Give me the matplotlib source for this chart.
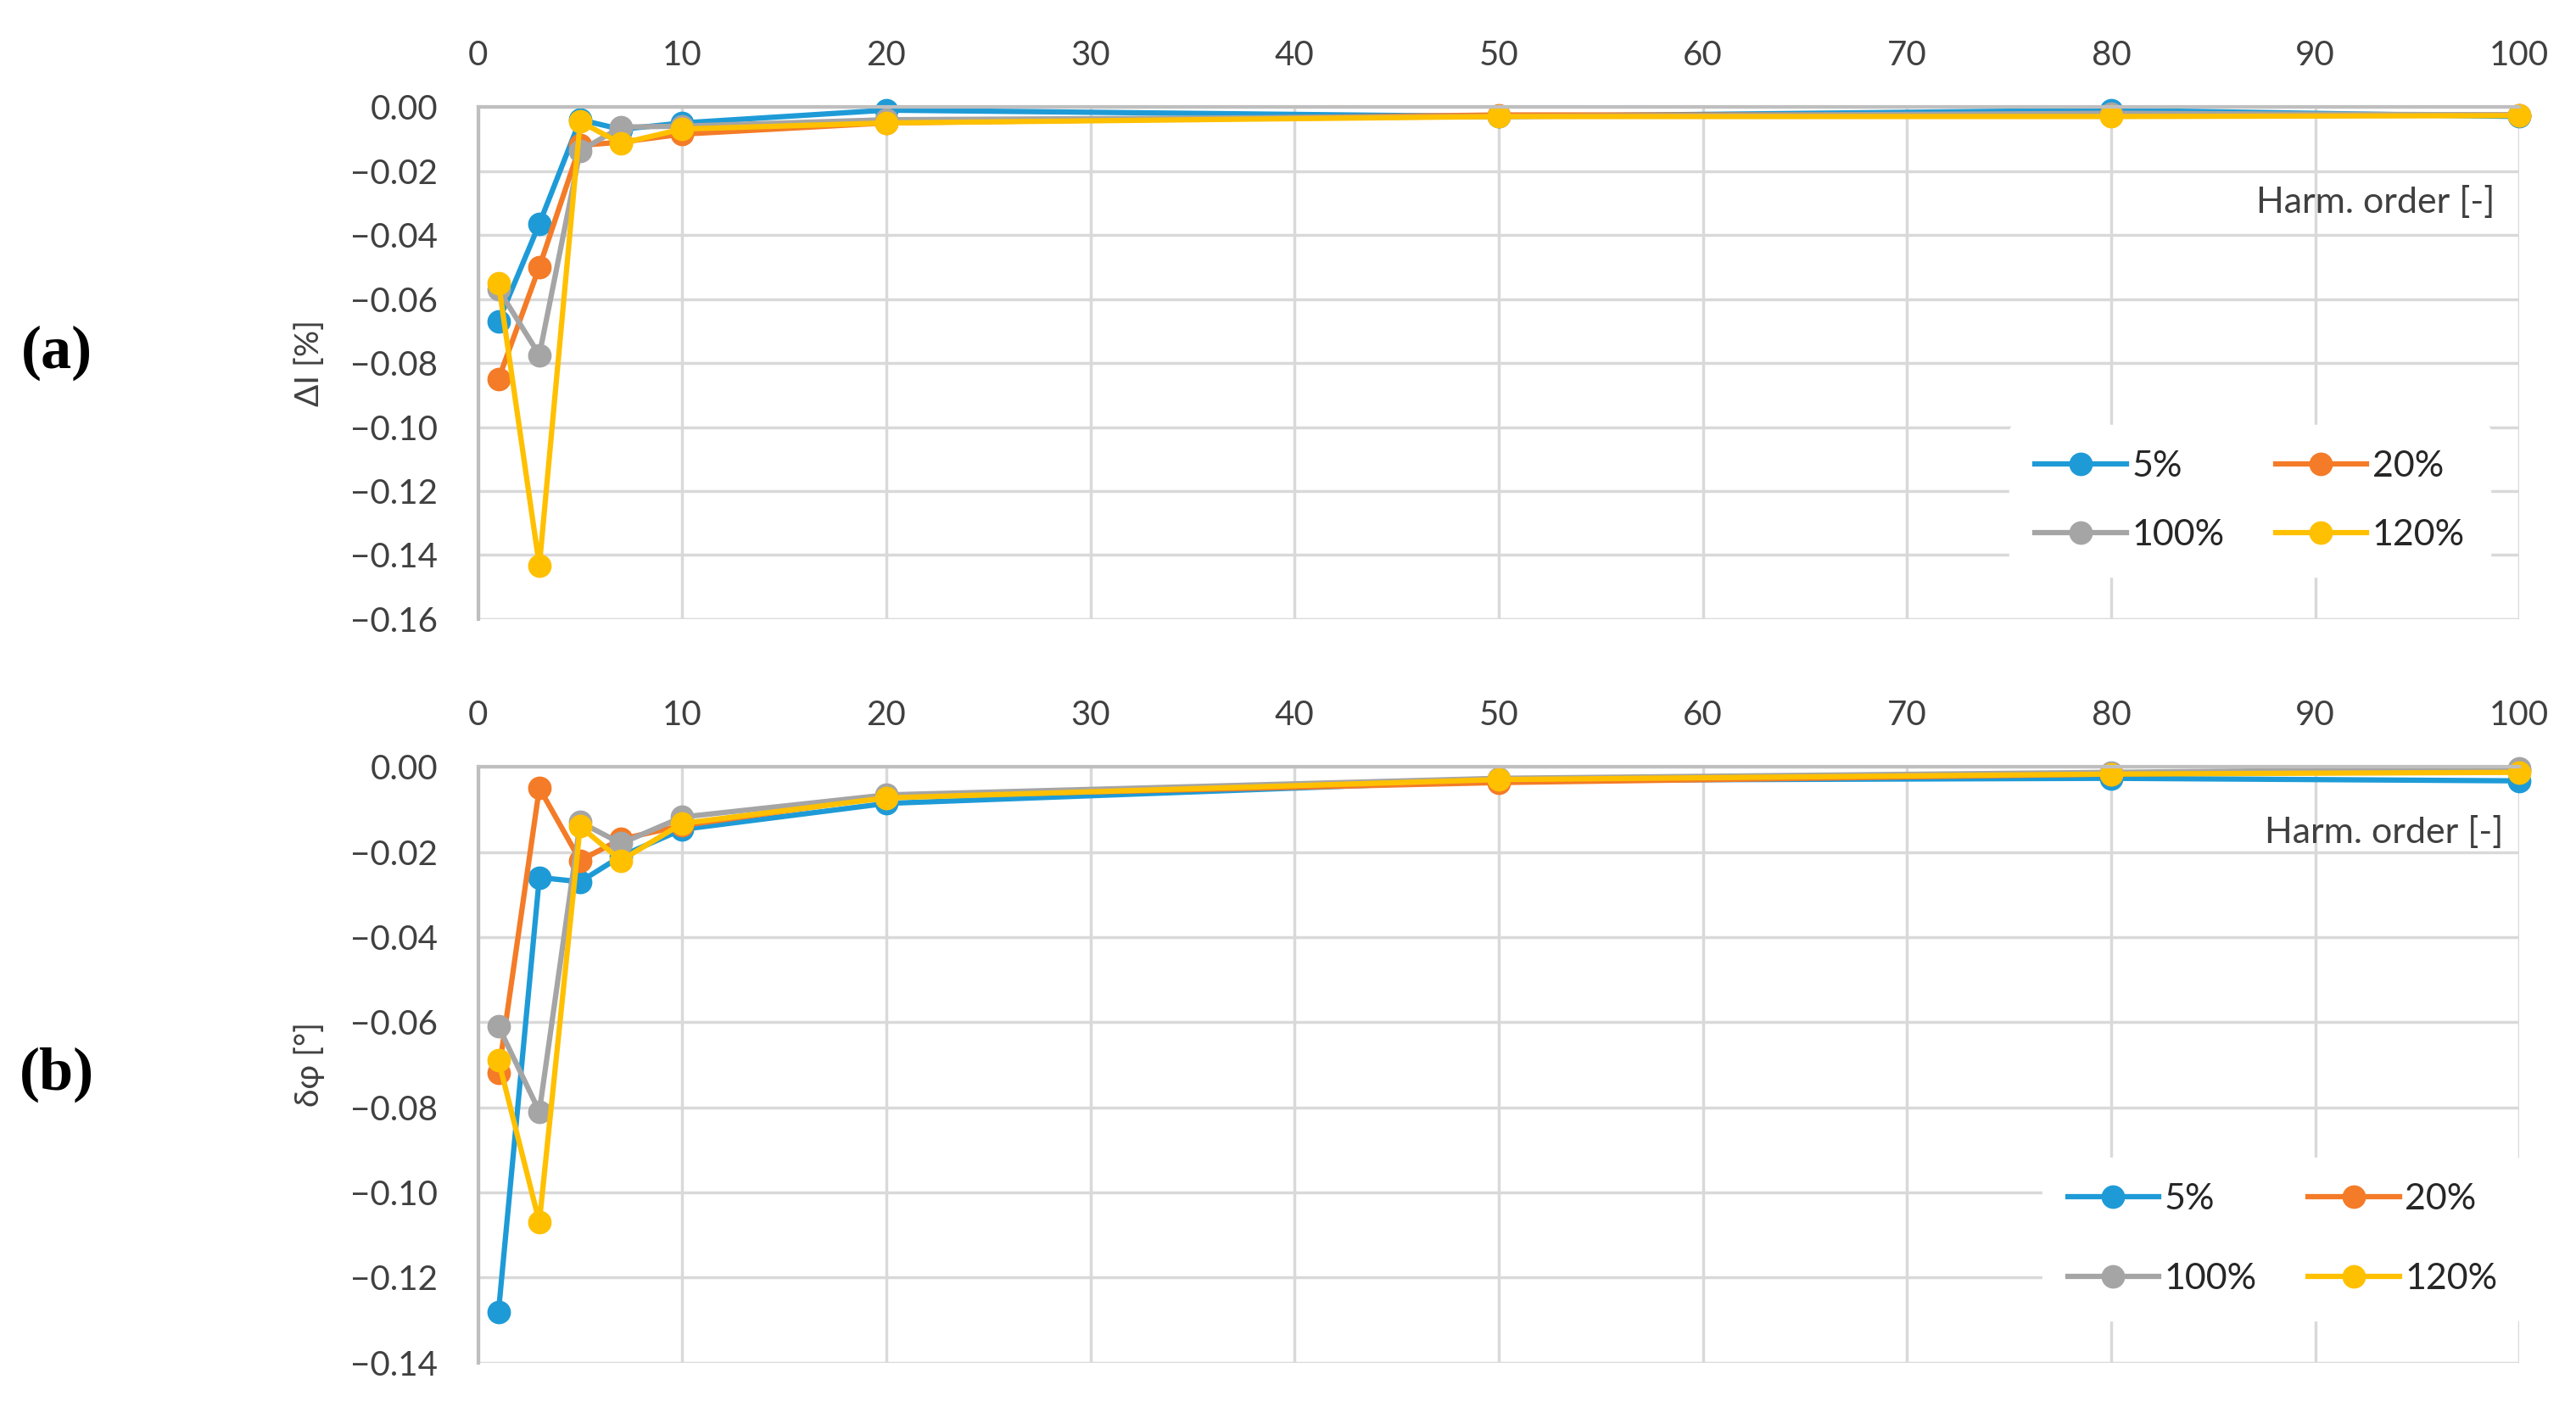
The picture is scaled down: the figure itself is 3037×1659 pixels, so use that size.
# Harmonic-order error curves, two stacked panels
import numpy as np
import matplotlib.pyplot as plt

plt.rcParams['font.family'] = ['Lato', 'DejaVu Sans']

harm_order = [1, 3, 5, 7, 10, 20, 50, 80, 100]
load_labels = ['5%', '20%', '100%', '120%']

# panel (a): amplitude error dI [%]
dI_5 = [-0.067, -0.0365, -0.004, -0.007, -0.005, -0.001, -0.003, -0.001, -0.003]
dI_20 = [-0.085, -0.050, -0.012, -0.011, -0.0085, -0.005, -0.0025, -0.0025, -0.0025]
dI_100 = [-0.057, -0.0775, -0.0137, -0.0063, -0.006, -0.004, -0.003, -0.002, -0.0025]
dI_120 = [-0.055, -0.1434, -0.0046, -0.0114, -0.0069, -0.005, -0.003, -0.003, -0.0027]

# panel (b): phase error dphi [deg]
dphi_5 = [-0.128, -0.026, -0.027, -0.021, -0.0147, -0.0086, -0.0032, -0.0027, -0.0033]
dphi_20 = [-0.072, -0.005, -0.022, -0.017, -0.0138, -0.007, -0.0037, -0.0017, -0.0008]
dphi_100 = [-0.061, -0.081, -0.013, -0.018, -0.0118, -0.0066, -0.0027, -0.0013, -0.0004]
dphi_120 = [-0.069, -0.107, -0.014, -0.022, -0.0133, -0.0073, -0.003, -0.0017, -0.0013]

colors = ['#1E9BD7', '#F47B27', '#A5A5A5', '#FFC000']
grid_col = '#D9D9D9'

fig = plt.figure(figsize=(30.37, 16.59), dpi=100)
ax_a = fig.add_axes([0.1856, 0.560, 0.7924, 0.364])
ax_b = fig.add_axes([0.1856, 0.0315, 0.7924, 0.4235])


def style_panel(ax, ymin, ylabel, harm_pos, leg_pos, row_gap):
    ax.set_xlim(0, 100)
    ax.set_ylim(ymin, 0)
    ax.set_xticks(np.arange(0, 101, 10))
    yt = np.arange(0, ymin - 0.001, -0.02)
    ax.set_yticks(yt)
    ax.set_yticklabels(['{:.2f}'.format(v).replace('-', '\u2212') if abs(v) > 1e-9 else '0.00' for v in yt])
    ax.xaxis.tick_top()
    ax.tick_params(axis='both', length=0, labelsize=29, colors='#404040')
    ax.tick_params(axis='x', pad=30)
    ax.tick_params(axis='y', pad=34)
    ax.grid(True, color=grid_col, linewidth=2.5)
    ax.set_axisbelow(True)
    for side in ['right', 'bottom']:
        ax.spines[side].set_visible(False)
    ax.spines['top'].set_color('#BFBFBF')
    ax.spines['top'].set_linewidth(3)
    ax.spines['left'].set_color('#BFBFBF')
    ax.spines['left'].set_linewidth(3)
    ax.set_ylabel(ylabel, fontsize=28, color='#404040', labelpad=22)
    ax.text(harm_pos[0], harm_pos[1], 'Harm. order [-]', transform=ax.transAxes,
            ha='right', va='center', fontsize=31, color='#404040')
    h, l = ax.get_legend_handles_labels()
    order = [0, 2, 1, 3]
    leg = ax.legend([h[i] for i in order], [l[i] for i in order], ncol=2,
                    loc='center', bbox_to_anchor=leg_pos, fontsize=31,
                    frameon=True, framealpha=1, edgecolor='white',
                    handlelength=2.5, columnspacing=1.4, labelspacing=row_gap,
                    borderpad=0.7, handletextpad=0.15)
    for t in leg.get_texts():
        t.set_color('#262626')


for ys, c, lab in zip([dI_5, dI_20, dI_100, dI_120], colors, load_labels):
    ax_a.plot(harm_order, ys, color=c, marker='o', markersize=19, linewidth=4.5,
              label=lab, clip_on=False)
for ys, c, lab in zip([dphi_5, dphi_20, dphi_100, dphi_120], colors, load_labels):
    ax_b.plot(harm_order, ys, color=c, marker='o', markersize=19, linewidth=4.5,
              label=lab, clip_on=False)

style_panel(ax_a, -0.16, '\u0394I [%]', (0.988, 0.814), (0.868, 0.231), 1.0)
style_panel(ax_b, -0.14, '\u03b4\u03c6 [\u00b0]', (0.992, 0.89), (0.884, 0.207), 1.3)

fig.text(0.022, 0.749, '(a)', fontsize=52, family=['Liberation Serif'], fontweight='bold',
         ha='center', va='center')
fig.text(0.022, 0.236, '(b)', fontsize=52, family=['Liberation Serif'], fontweight='bold',
         ha='center', va='center')

fig.savefig('out.png', dpi=100)
